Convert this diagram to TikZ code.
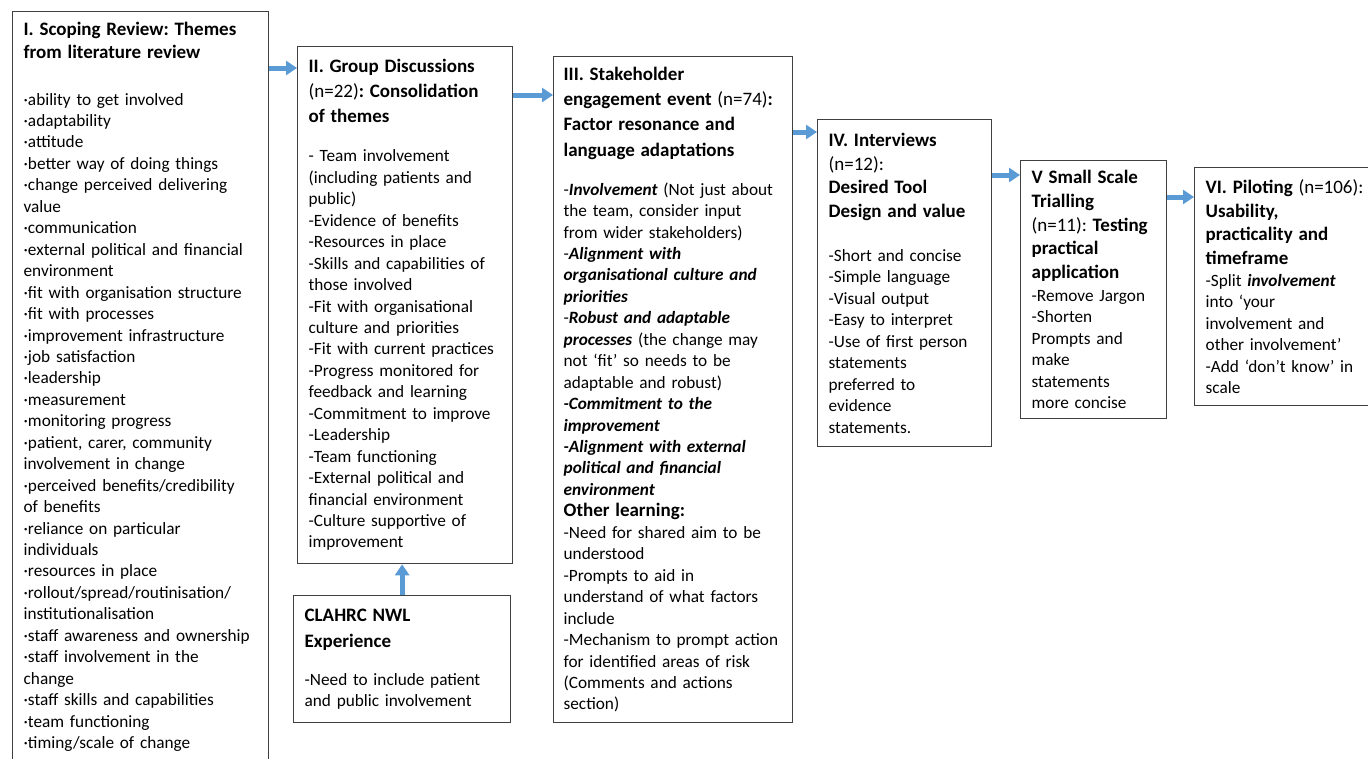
\documentclass[tikz,border=0pt]{standalone}
\usepackage{fontspec}
\setmainfont{Carlito}
\usepackage{xcolor}
\usetikzlibrary{arrows.meta}
\definecolor{flowblue}{HTML}{5B9BD5}
\definecolor{boxline}{HTML}{404040}
\newcommand{\bodysize}{\fontsize{17.25}{21.45}\selectfont\frenchspacing\hyphenpenalty=10000\exhyphenpenalty=10000}
\newcommand{\headsize}[1][24]{\fontsize{19}{#1}\selectfont}
\newcommand{\bi}[1]{\textbf{\textit{#1}}}

\begin{document}
\begin{tikzpicture}[x=1pt,y=-1pt,
  stage/.style={draw=boxline,line width=1.3pt,anchor=north west,align=left,
    inner xsep=11pt,inner ysep=0pt,font=\bodysize},
  flow/.style={draw=flowblue,line width=5pt,-{Triangle[length=11pt,width=14pt]}}]
\useasboundingbox[fill=white] (0,0) rectangle (1368,758);

% stages
\node[stage,text width=234pt,minimum width=256pt,minimum height=750pt] (scoping) at (12,11) {%
{\headsize[23]\textbf{I. Scoping Review: Themes}\\\textbf{from literature review}\par}
\vspace{25.5pt}
·ability to get involved\\
·adaptability\\
·attitude\\
·better way of doing things\\
·change perceived delivering\\
value\\
·communication\\
·external political and financial\\
environment\\
·fit with organisation structure\\
·fit with processes\\
·improvement infrastructure\\
·job satisfaction\\
·leadership\\
·measurement\\
·monitoring progress\\
·patient, carer, community\\
involvement in change\\
·perceived benefits/credibility\\
of benefits\\
·reliance on particular\\
individuals\\
·resources in place\\
·rollout/spread/routinisation/\\
institutionalisation\\
·staff awareness and ownership\\
·staff involvement in the\\
change\\
·staff skills and capabilities\\
·team functioning\\
·timing/scale of change};

\node[stage,text width=193pt,minimum width=215pt,minimum height=517pt] (groups) at (297,46) {%
{\headsize[25]\textbf{II. Group Discussions}\\(n=22)\textbf{: Consolidation}\\\textbf{of themes}\par}
\vspace{17.5pt}
- Team involvement\\
(including patients and\\
public)\\
-Evidence of benefits\\
-Resources in place\\
-Skills and capabilities of\\
those involved\\
-Fit with organisational\\
culture and priorities\\
-Fit with current practices\\
-Progress monitored for\\
feedback and learning\\
-Commitment to improve\\
-Leadership\\
-Team functioning\\
-External political and\\
financial environment\\
-Culture supportive of\\
improvement};

\node[stage,text width=195pt,minimum width=217pt,minimum height=127pt] (clahrc) at (293,595) {%
{\headsize[26]\textbf{CLAHRC NWL}\\\textbf{Experience}\par}
\vspace{16.5pt}
-Need to include patient\\
and public involvement};

\node[stage,inner xsep=10pt,text width=219pt,minimum width=239pt,minimum height=666pt] (event) at (553,56) {%
{\headsize[25.3]\textbf{III. Stakeholder}\\\textbf{engagement event} (n=74)\textbf{:}\\\textbf{Factor resonance and}\\\textbf{language adaptations}\par}
\vspace{17.5pt}
-\bi{Involvement} (Not just about\\
the team, consider input\\
from wider stakeholders)\\
-\bi{Alignment with}\\
\bi{organisational culture and}\\
\bi{priorities}\\
-\bi{Robust and adaptable}\\
\bi{processes} (the change may\\
not ‘fit’ so needs to be\\
adaptable and robust)\\
\bi{-Commitment to the}\\
\bi{improvement}\\
\bi{-Alignment with external}\\
\bi{political and financial}\\
\bi{environment}\\
{\headsize\textbf{Other learning:}}\\
-Need for shared aim to be\\
understood\\
-Prompts to aid in\\
understand of what factors\\
include\\
-Mechanism to prompt action\\
for identified areas of risk\\
(Comments and actions\\
section)};

\node[stage,text width=152pt,minimum width=174pt,minimum height=327pt] (interviews) at (817,119) {%
{\headsize[23.7]\textbf{IV. Interviews}\\(n=12):\\\textbf{Desired Tool}\\\textbf{Design and value}\par}
\vspace{22.5pt}
-Short and concise\\
-Simple language\\
-Visual output\\
-Easy to interpret\\
-Use of first person\\
statements\\
preferred to\\
evidence\\
statements.\par
\vspace{7pt}};

\node[stage,text width=124pt,minimum width=146pt,minimum height=258pt] (trialling) at (1020,160) {%
{\headsize[23.7]\textbf{V Small Scale}\\\textbf{Trialling}\\(n=11): \textbf{Testing}\\\textbf{practical}\\\textbf{application}\par}
\vspace{1.5pt}
-Remove Jargon\\
-Shorten\\
Prompts and\\
make\\
statements\\
more concise};

\node[stage,text width=168pt,minimum width=190pt,minimum height=238pt] (piloting) at (1194,167) {%
{\headsize[23.7]\textbf{VI. Piloting} (n=106):\\\textbf{Usability,}\\\textbf{practicality and}\\\textbf{timeframe}\par}
\vspace{0.5pt}
-Split \bi{involvement}\\
into ‘your\\
involvement and\\
other involvement’\\
-Add ‘don’t know’ in\\
scale};

% arrows
\coordinate (r1) at (0,68);
\coordinate (r2) at (0,95);
\coordinate (r3) at (0,132);
\coordinate (r4) at (0,175);
\coordinate (r5) at (0,197);
\draw[flow] (scoping.east |- r1) -- (groups.west |- r1);
\draw[flow] (groups.east |- r2) -- (event.west |- r2);
\draw[flow] (event.east |- r3) -- (interviews.west |- r3);
\draw[flow] (interviews.east |- r4) -- (trialling.west |- r4);
\draw[flow] (trialling.east |- r5) -- (piloting.west |- r5);
\draw[flow] (clahrc.north) -- (clahrc.north |- groups.south);
\end{tikzpicture}
\end{document}
